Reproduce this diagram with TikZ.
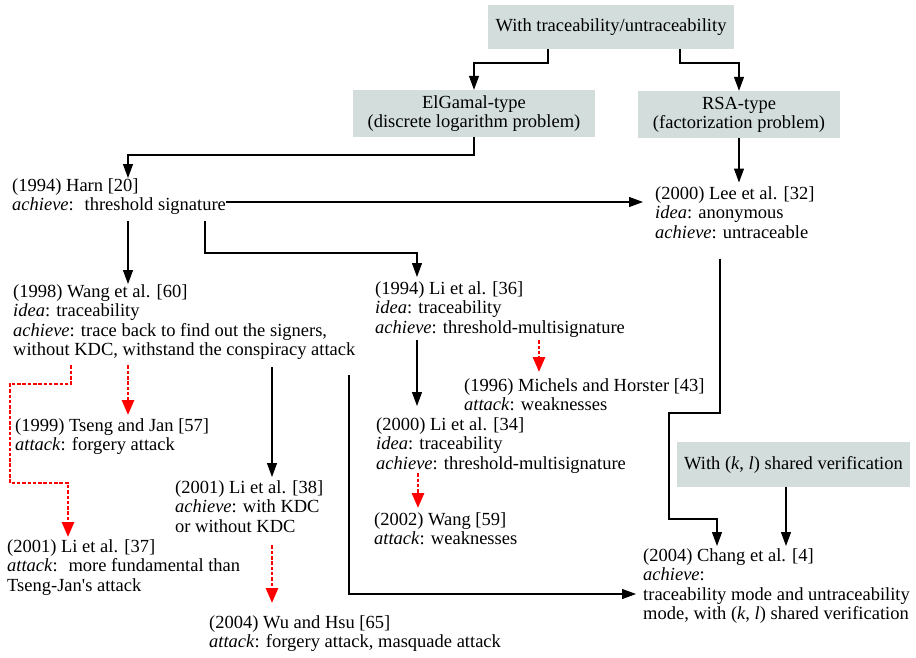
\documentclass[tikz,border=0pt]{standalone}
\usepackage{fontspec}
\setmainfont{Liberation Serif}[Ligatures=TeXOff]
\usetikzlibrary{arrows.meta}
\definecolor{boxgray}{RGB}{211,222,220}
\begin{document}
\begin{tikzpicture}[x=1pt,y=-1pt,
  every node/.style={font=\fontsize{18.5}{19.2}\selectfont},
  entry/.style={anchor=north west, inner sep=0pt, align=left},
  category/.style={fill=boxgray, inner sep=0pt, align=center},
  link/.style={line width=1.1pt, -{Triangle[length=14pt,width=10pt]}},
  attackline/.style={red, line width=2.9pt, dash pattern=on 3.5pt off 1.8pt,
    -{Triangle[length=15pt,width=12pt]}},
]
\useasboundingbox (0,0) rectangle (916,657);
\fill[white] (0,0) rectangle (916,657);

% category boxes
\node[category, minimum width=246pt, minimum height=44pt] (top) at (611,27)
  {With traceability/untraceability};
\node[category, minimum width=242pt, minimum height=47pt] (elg) at (474,113.5)
  {ElGamal-type\\(discrete logarithm problem)};
\node[category, minimum width=202pt, minimum height=47pt] (rsa) at (739,114.5)
  {RSA-type\\(factorization problem)};
\node[category, minimum width=233pt, minimum height=45pt] (kl) at (793.5,464.5)
  {With (\textit{k}, \textit{l}) shared verification};

% schemes and attacks
\node[entry] (harn) at (12,178)
  {\strut(1994) Harn [20]\\\textit{achieve}:~ threshold signature};
\node[entry] (lee) at (655,186)
  {\strut(2000) Lee et al. [32]\\\textit{idea}: anonymous\\\textit{achieve}: untraceable};
\node[entry] (wang) at (13,284)
  {\strut(1998) Wang et al. [60]\\\textit{idea}: traceability\\
   \textit{achieve}: trace back to find out the signers,\\
   without KDC, withstand the conspiracy attack};
\node[entry] (li36) at (375,281)
  {\strut(1994) Li et al. [36]\\\textit{idea}: traceability\\
   \textit{achieve}: threshold-multisignature};
\node[entry] (mich) at (464,378)
  {\strut(1996) Michels and Horster [43]\\\textit{attack}: weaknesses};
\node[entry] (li34) at (376,417)
  {\strut(2000) Li et al. [34]\\\textit{idea}: traceability\\
   \textit{achieve}: threshold-multisignature};
\node[entry] (wang59) at (374,512)
  {\strut(2002) Wang [59]\\\textit{attack}: weaknesses};
\node[entry] (tseng) at (15,418)
  {\strut(1999) Tseng and Jan [57]\\\textit{attack}: forgery attack};
\node[entry] (li37) at (7,539)
  {\strut(2001) Li et al. [37]\\\textit{attack}:~ more fundamental than\\Tseng-Jan's attack};
\node[entry] (li38) at (175,480)
  {\strut(2001) Li et al. [38]\\\textit{achieve}: with KDC\\or without KDC};
\node[entry] (wu) at (209,615)
  {\strut(2004) Wu and Hsu [65]\\\textit{attack}: forgery attack, masquade attack};
\node[entry] (chang) at (643,548)
  {\strut(2004) Chang et al. [4]\\\textit{achieve}:\\
   traceability mode and untraceability\\
   mode, with (\textit{k}, \textit{l}) shared verification};

% derivation links
\draw[link] (top.south -| 548,0) -- (548,63) -| (elg.north);
\draw[link] (top.south -| 680,0) -- (680,63) -| (rsa.north);
\draw[link] (elg.south) -- (474,155) -| (harn.north -| 128,0);
\draw[link, shorten >=3.5pt] (rsa.south) -- (lee.north -| rsa.south);
\draw[link, shorten >=12pt] (harn.east |- 0,202) -- (lee.west |- 0,202);
\draw[link, shorten <=6pt] (harn.south -| 128,0) -- (wang.north -| 128,0);
\draw[link, shorten <=6pt, shorten >=4pt] (harn.south -| 205,0) |- (417,253)
  -- (li36.north -| 417,0);
\draw[link, shorten <=3pt, shorten >=11pt] (li36.south -| 417,0) -- (li34.north -| 417,0);
\draw[link, shorten <=8pt, shorten >=3pt] (wang.south -| 272,0) -- (li38.north -| 272,0);
\draw[link, shorten <=16pt, shorten >=7pt] (wang.south -| 349,0) |- (chang.west |- 0,594);
\draw[link, shorten <=20pt, shorten >=2pt] (lee.south -| 720,0) -- (720,413) -| (669,519)
  -| (chang.north -| 717,0);
\draw[link, shorten >=2pt] (kl.south -| 786,0) -- (chang.north -| 786,0);

% attack links
\draw[attackline, shorten <=3pt, shorten >=6pt] (li36.south -| 539,0) -- (mich.north -| 539,0);
\draw[attackline, shorten >=4pt] (li34.south -| 418,0) -- (wang59.north -| 418,0);
\draw[attackline, shorten <=6pt, shorten >=3pt] (wang.south -| 128,0) -- (tseng.north -| 128,0);
\draw[attackline, shorten <=6pt, shorten >=2pt] (wang.south -| 71,0) |- (10,384) |- (68,483)
  -- (li37.north -| 68,0);
\draw[attackline, shorten <=13pt, shorten >=12pt] (li38.south -| 272,0) -- (wu.north -| 272,0);
\end{tikzpicture}
\end{document}
